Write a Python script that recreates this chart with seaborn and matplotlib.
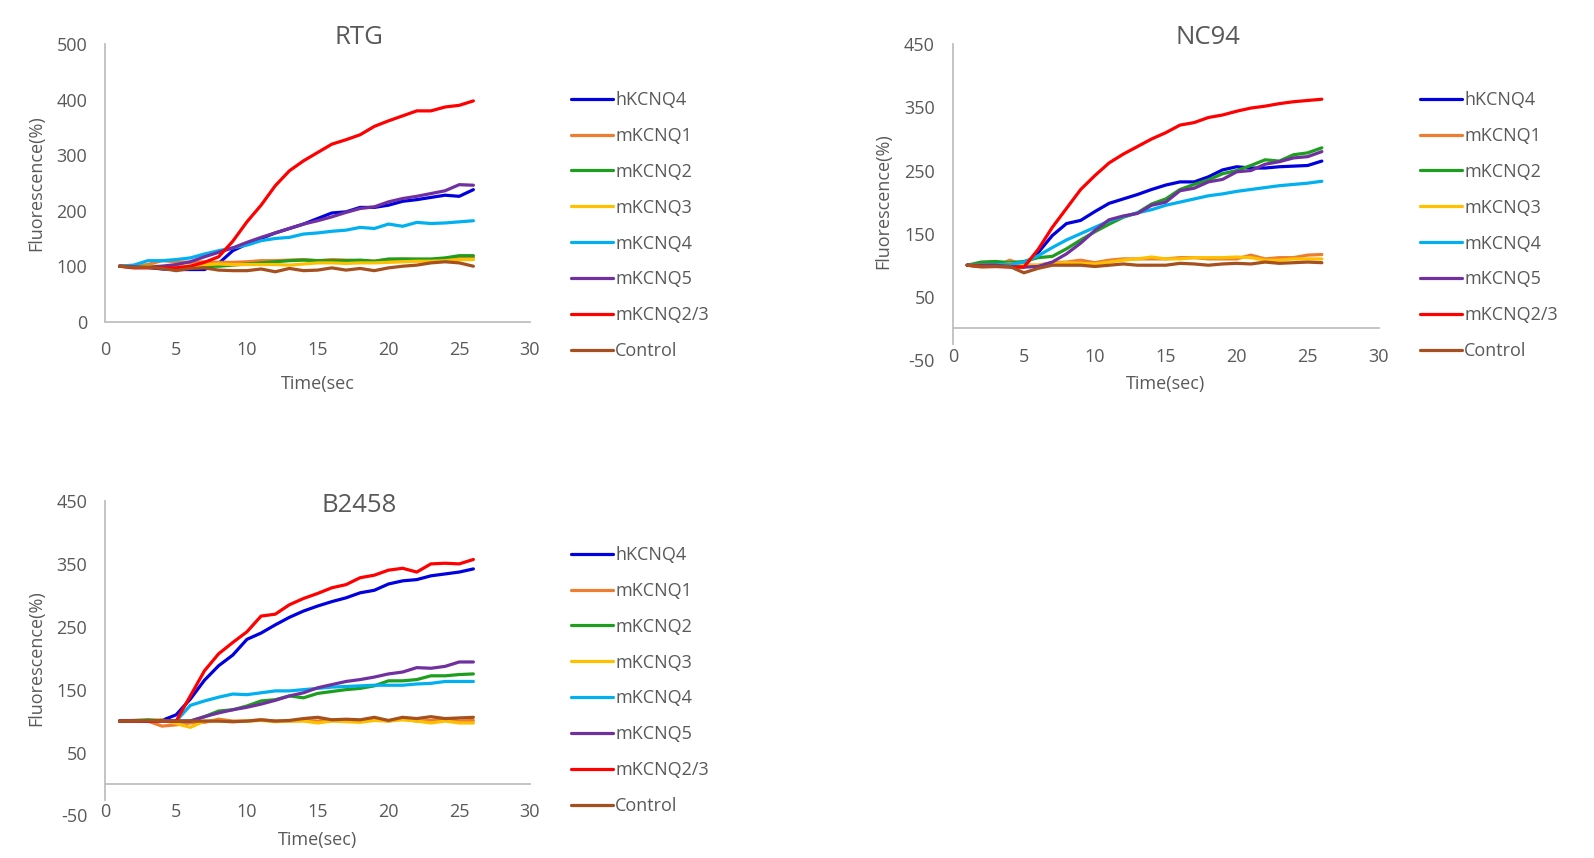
import numpy as np
import pandas as pd
import matplotlib
matplotlib.use("Agg")
import matplotlib.pyplot as plt
import seaborn as sns
from matplotlib.lines import Line2D

# ---------------- data ----------------
time_sec = list(range(1, 27))
series_names = ["hKCNQ4", "mKCNQ1", "mKCNQ2", "mKCNQ3", "mKCNQ4", "mKCNQ5", "mKCNQ2/3", "Control"]
series_colors = ["#0000E0", "#ED7D31", "#1E9E1E", "#FFC000", "#00B0F0", "#7030A0", "#FF0000", "#A5501E"]

# RTG
rtg_hKCNQ4 = [100, 99, 98, 95, 94, 94, 94, 105, 128, 140, 150, 160, 168, 176, 186, 196, 198, 206, 206, 210, 217, 220, 224, 228, 226, 238]
rtg_mKCNQ1 = [100, 100, 103, 110, 108, 107, 108, 107, 107, 108, 110, 110, 111, 112, 110, 112, 111, 110, 109, 112, 113, 112, 112, 112, 115, 116]
rtg_mKCNQ2 = [100, 100, 100, 99, 98, 100, 100, 100, 102, 104, 106, 108, 110, 111, 110, 110, 110, 111, 109, 113, 113, 113, 113, 115, 119, 119]
rtg_mKCNQ3 = [100, 100, 100, 100, 100, 100, 103, 104, 103, 103, 103, 103, 102, 104, 106, 106, 105, 106, 106, 107, 108, 109, 109, 110, 112, 112]
rtg_mKCNQ4 = [100, 102, 110, 110, 112, 115, 122, 128, 133, 138, 146, 150, 152, 158, 160, 163, 165, 170, 168, 176, 172, 179, 177, 178, 180, 182]
rtg_mKCNQ5 = [100, 99, 98, 100, 103, 108, 117, 125, 133, 143, 152, 160, 168, 176, 182, 189, 197, 204, 207, 216, 222, 226, 231, 236, 247, 246]
rtg_mKCNQ23 = [100, 97, 97, 97, 97, 100, 107, 117, 145, 180, 210, 245, 272, 290, 305, 320, 328, 337, 352, 362, 371, 380, 380, 387, 390, 398]
rtg_control = [100, 98, 98, 96, 92, 96, 97, 93, 92, 92, 95, 90, 96, 92, 93, 97, 93, 96, 92, 97, 100, 102, 106, 108, 106, 100]

# NC94
nc94_hKCNQ4 = [100, 100, 101, 100, 100, 120, 147, 166, 171, 185, 198, 205, 212, 220, 227, 232, 232, 240, 251, 256, 254, 254, 256, 257, 258, 265]
nc94_mKCNQ1 = [100, 97, 98, 108, 100, 100, 104, 105, 108, 104, 108, 110, 110, 110, 110, 112, 112, 110, 110, 110, 116, 110, 112, 112, 116, 117]
nc94_mKCNQ2 = [100, 105, 106, 104, 106, 112, 114, 126, 140, 153, 165, 176, 183, 197, 205, 220, 228, 235, 245, 250, 258, 267, 265, 275, 278, 286]
nc94_mKCNQ3 = [100, 100, 100, 102, 100, 100, 103, 104, 103, 102, 105, 108, 110, 113, 110, 110, 112, 112, 112, 113, 112, 108, 108, 110, 110, 110]
nc94_mKCNQ4 = [100, 100, 101, 101, 105, 115, 128, 140, 150, 160, 170, 177, 183, 188, 195, 200, 205, 210, 213, 217, 220, 223, 226, 228, 230, 233]
nc94_mKCNQ5 = [100, 100, 100, 98, 97, 98, 105, 118, 135, 155, 172, 178, 182, 195, 200, 218, 222, 232, 236, 248, 250, 260, 264, 270, 272, 280]
nc94_mKCNQ23 = [100, 98, 98, 97, 97, 125, 160, 190, 220, 242, 262, 276, 288, 300, 310, 322, 326, 334, 338, 344, 349, 352, 356, 359, 361, 363]
nc94_control = [100, 98, 98, 98, 88, 95, 100, 100, 100, 98, 100, 102, 100, 100, 100, 103, 102, 100, 102, 103, 102, 105, 103, 104, 105, 104]

# B2458
b2458_hKCNQ4 = [100, 100, 100, 101, 110, 135, 165, 188, 205, 230, 240, 253, 265, 275, 283, 290, 296, 304, 308, 318, 323, 325, 331, 334, 337, 342]
b2458_mKCNQ1 = [100, 100, 100, 92, 94, 97, 98, 103, 100, 100, 102, 100, 100, 101, 100, 102, 101, 100, 103, 100, 104, 100, 101, 103, 100, 101]
b2458_mKCNQ2 = [100, 101, 102, 101, 100, 100, 107, 116, 118, 124, 132, 134, 140, 137, 144, 147, 150, 152, 156, 164, 164, 166, 172, 172, 174, 175]
b2458_mKCNQ3 = [100, 100, 100, 102, 96, 90, 100, 100, 99, 100, 101, 99, 100, 100, 97, 100, 99, 98, 101, 100, 102, 100, 97, 100, 97, 97]
b2458_mKCNQ4 = [100, 100, 100, 101, 100, 125, 132, 138, 143, 142, 145, 148, 148, 150, 152, 154, 155, 156, 157, 157, 157, 159, 160, 163, 163, 163]
b2458_mKCNQ5 = [100, 100, 100, 100, 100, 100, 107, 113, 118, 122, 127, 133, 140, 145, 153, 158, 163, 166, 170, 175, 178, 185, 184, 187, 194, 194]
b2458_mKCNQ23 = [100, 100, 100, 100, 100, 140, 180, 207, 225, 242, 267, 270, 285, 295, 303, 312, 317, 328, 332, 340, 343, 337, 350, 351, 350, 357]
b2458_control = [100, 100, 101, 100, 100, 100, 100, 100, 99, 100, 102, 100, 101, 104, 106, 102, 103, 102, 106, 101, 106, 104, 107, 104, 105, 106]

panel_titles = ["RTG", "NC94", "B2458"]
x_labels = ["Time(sec", "Time(sec)", "Time(sec)"]
y_label = "Fluorescence(%)"
x_ticks = [0, 5, 10, 15, 20, 25, 30]
y_ticks_rtg = [0, 100, 200, 300, 400, 500]
y_ticks_other = [-50, 50, 150, 250, 350, 450]

panel_series = [
    [rtg_hKCNQ4, rtg_mKCNQ1, rtg_mKCNQ2, rtg_mKCNQ3, rtg_mKCNQ4, rtg_mKCNQ5, rtg_mKCNQ23, rtg_control],
    [nc94_hKCNQ4, nc94_mKCNQ1, nc94_mKCNQ2, nc94_mKCNQ3, nc94_mKCNQ4, nc94_mKCNQ5, nc94_mKCNQ23, nc94_control],
    [b2458_hKCNQ4, b2458_mKCNQ1, b2458_mKCNQ2, b2458_mKCNQ3, b2458_mKCNQ4, b2458_mKCNQ5, b2458_mKCNQ23, b2458_control],
]

# ---------------- style ----------------
sns.set_style("white")
plt.rcParams["font.family"] = ["Open Sans", "DejaVu Sans"]
plt.rcParams["axes.unicode_minus"] = False
TXT = "#595959"
AX = "#BFBFBF"

W, H = 1594, 858
fig = plt.figure(figsize=(W / 100, H / 100), dpi=100)

def fx(px):
    return px / W

def fy(py):
    return 1 - py / H

# axes pixel boxes: (left, right, top, bottom)
boxes = [
    (105.4, 530.0, 44.3, 321.7),
    (953.0, 1378.6, 44.3, 359.9),
    (105.4, 530.0, 501.0, 815.4),
]
ylims = [(0, 500), (-50, 450), (-50, 450)]
title_pos = [(359, 37), (1208, 37), (359, 506)]
ylab_pos = [(36.6, 183), (883.4, 201), (36.6, 658)]
xlab_pos = [(318, 384), (1166, 384), (318, 840)]
legend_pos = [(571, 91), (1420, 91), (571, 546)]

palette = dict(zip(series_names, series_colors))

for i in range(3):
    l, r, t, b = boxes[i]
    ax = fig.add_axes([fx(l), fy(b), fx(r) - fx(l), fy(t) - fy(b)])
    ax.set_facecolor("none")
    frames = []
    for name, vals in zip(series_names, panel_series[i]):
        frames.append(pd.DataFrame({"time": time_sec, "value": vals, "series": name}))
    df = pd.concat(frames, ignore_index=True)
    sns.lineplot(data=df, x="time", y="value", hue="series", hue_order=series_names,
                 palette=palette, linewidth=2.3, legend=False, ax=ax, estimator=None,
                 sort=False)
    ax.set_xlim(0, 30)
    ax.set_ylim(*ylims[i])
    ax.set_xticks(x_ticks)
    ax.set_yticks(y_ticks_rtg if i == 0 else y_ticks_other)
    ax.set_xlabel("")
    ax.set_ylabel("")
    for s in ["top", "right"]:
        ax.spines[s].set_visible(False)
    for s in ["left", "bottom"]:
        ax.spines[s].set_color(AX)
        ax.spines[s].set_linewidth(1.3)
    if i > 0:
        ax.spines["bottom"].set_position(("data", 0))
        ax.spines["left"].set_bounds(-25, 450)
    ax.tick_params(axis="both", length=0, labelsize=13, colors=TXT)
    ax.tick_params(axis="y", pad=13)
    ax.tick_params(axis="x", pad=14)

    fig.text(fx(title_pos[i][0]), fy(title_pos[i][1]), panel_titles[i], ha="center", va="center",
             fontsize=18.5, color=TXT)
    fig.text(fx(ylab_pos[i][0]), fy(ylab_pos[i][1]), y_label, ha="center", va="center",
             rotation=90, fontsize=13, color=TXT)
    fig.text(fx(xlab_pos[i][0]), fy(xlab_pos[i][1]), x_labels[i], ha="center", va="center",
             fontsize=13, color=TXT)

    handles = [Line2D([0], [0], color=c, lw=2.3) for c in series_colors]
    leg = ax.legend(handles, series_names, loc="upper left",
                    bbox_to_anchor=(fx(legend_pos[i][0]), fy(legend_pos[i][1])),
                    bbox_transform=fig.transFigure, frameon=False, fontsize=13,
                    handlelength=2.35, handletextpad=0.1, labelspacing=0.99,
                    borderaxespad=0, borderpad=0)
    for txt in leg.get_texts():
        txt.set_color(TXT)

fig.savefig("out.png", dpi=100)
